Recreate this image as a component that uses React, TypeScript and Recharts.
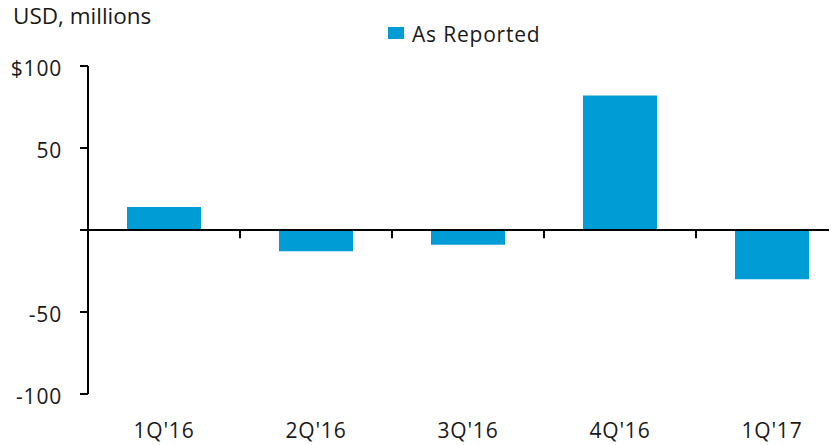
import React from "react";
import { BarChart, Bar, XAxis, YAxis, ReferenceLine, Legend } from "recharts";

const categories = ["1Q'16", "2Q'16", "3Q'16", "4Q'16", "1Q'17"];
const asReported = [14, -13, -9, 82, -30];
const yTicks = [-100, -50, 0, 50, 100];
const boundaryCategories = ["2Q'16", "3Q'16", "4Q'16", "1Q'17"];
const seriesName = "As Reported";
const unitLabel = "USD, millions";

const data = categories.map((c, i) => ({ name: c, value: asReported[i] }));

const FONT = "'Open Sans', sans-serif";
const TEXT = "#1a1a1a";
const BAR = "#009cd6";

const fmtY = (v: number) => (v === 0 ? "" : v === 100 ? "$100" : String(v));

const YTick = (props: any) => {
  const { x, y, payload } = props;
  return (
    <text
      x={x}
      y={y}
      dy={9.5}
      textAnchor="end"
      fill={TEXT}
      style={{ fontFamily: FONT, fontSize: 21, letterSpacing: 0.8 }}
    >
      {fmtY(payload.value)}
    </text>
  );
};

const XTick = (props: any) => {
  const { x, y, payload } = props;
  return (
    <text
      x={x}
      y={y}
      dy={44}
      textAnchor="middle"
      fill={TEXT}
      style={{ fontFamily: FONT, fontSize: 21, letterSpacing: 0.8 }}
    >
      {payload.value}
    </text>
  );
};

const LegendContent = () => (
  <div style={{ position: "relative", height: 58, width: 829, fontFamily: FONT, color: TEXT }}>
    <span
      style={{
        position: "absolute",
        left: 5,
        top: 1,
        fontSize: 22.5,
        lineHeight: "14px",
        whiteSpace: "nowrap",
      }}
    >
      {unitLabel}
    </span>
    <span
      style={{ position: "absolute", left: 380, top: 18.7, width: 16, height: 12.6, background: BAR }}
    />
    <span
      style={{
        position: "absolute",
        left: 404,
        top: 15.7,
        fontSize: 21,
        lineHeight: "21px",
        letterSpacing: 0.8,
        whiteSpace: "nowrap",
      }}
    >
      {seriesName}
    </span>
  </div>
);

export default function App() {
  return (
    <BarChart width={829} height={437} data={data} margin={{ top: 0, right: -11, bottom: 0, left: 0 }}>
      <Legend verticalAlign="top" align="left" content={<LegendContent />} />
      <XAxis
        dataKey="name"
        axisLine={false}
        tickLine={false}
        tickSize={0}
        tickMargin={0}
        height={51}
        tick={<XTick />}
        interval={0}
      />
      <YAxis
        domain={[-100, 100]}
        ticks={yTicks}
        width={80}
        tickSize={8}
        tickMargin={18}
        axisLine={{ stroke: "#000", strokeWidth: 2 }}
        tickLine={{ stroke: "#000", strokeWidth: 2 }}
        tick={<YTick />}
        interval={0}
      />
      <Bar dataKey="value" name={seriesName} fill={BAR} barSize={74} isAnimationActive={false} />
      <ReferenceLine y={0} stroke="#000" strokeWidth={2} ifOverflow="visible" />
      {boundaryCategories.map((c) => (
        <ReferenceLine
          key={c}
          position="start"
          segment={[
            { x: c, y: 0 },
            { x: c, y: -5 },
          ]}
          stroke="#000"
          strokeWidth={2}
        />
      ))}
    </BarChart>
  );
}
